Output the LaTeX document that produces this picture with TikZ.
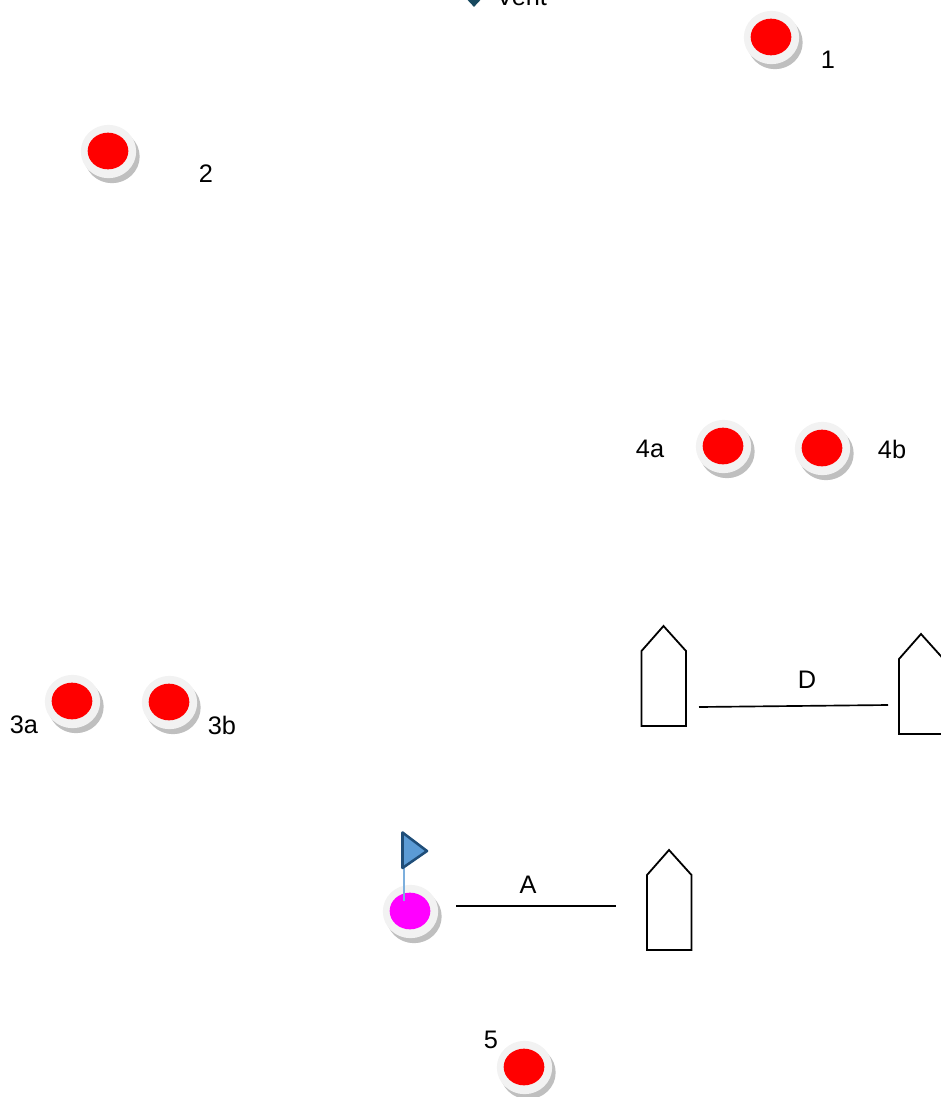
\documentclass[tikz,border=0pt]{standalone}
\usepackage{fontspec}
\setmainfont{Liberation Sans}
\usetikzlibrary{shapes.geometric}
\definecolor{ringgrey}{HTML}{F2F2F2}
\definecolor{shadowgrey}{HTML}{BFBFBF}
\definecolor{flagblue}{HTML}{5B9BD5}
\definecolor{flagedge}{HTML}{1F4E79}
\definecolor{ventteal}{HTML}{17495F}
\definecolor{markred}{HTML}{FF0000}
\definecolor{startpink}{HTML}{FF00FF}

\begin{document}
\begin{tikzpicture}[
        x=0.75pt, y=-0.75pt,
        buoy shadow/.style={ellipse, fill=shadowgrey, minimum width=41.5pt, minimum height=40pt, inner sep=0pt},
        buoy ring/.style={ellipse, fill=ringgrey, minimum width=41.5pt, minimum height=40pt, inner sep=0pt},
        buoy core/.style={ellipse, fill=#1, minimum width=30.5pt, minimum height=27.5pt, inner sep=0pt},
        mark label/.style={font=\fontsize{19}{22}\selectfont, inner sep=0pt},
        boat/.style={draw=black, line width=1.35pt, line join=miter, fill=white},
        course line/.style={draw=black, line width=1.25pt}
    ]

        \useasboundingbox (0,0) rectangle (940,1097);

        % Red marks
        \foreach \name/\px/\py in {1/771/37, 2/108/151, 4a/723/446, 4b/822/448, 3a/72/701, 3b/169/702, 5/524/1067}
        {
            \node[buoy shadow] (S-\name) at (\px+4,\py+5.5) {};
            \node[buoy ring] (R-\name) at (\px+0.5,\py+0.5) {};
            \node[buoy core=markred] (M-\name) at (\px,\py) {};
        }

        % Mark labels
        \foreach \name/\px/\py in {1/828/60, 2/206/174, 4a/650/449, 4b/892/449, 3a/24/725, 3b/222/725, 5/491/1040}
        {
            \node[mark label] (L-\name) at (\px,\py) {\name};
        }

        % Committee mark with flag
        \node[buoy shadow] (S-start) at (414,916.5) {};
        \node[buoy ring] (R-start) at (410.5,911.5) {};
        \node[buoy core=startpink] (M-start) at (410,911) {};
        \coordinate (pole foot) at (404,901);
        \coordinate (pole top) at (404,868);
        \draw[flagblue!80, line width=1pt] (pole foot) -- (pole top);
        \draw[draw=flagedge, fill=flagblue, line width=1.9pt, line join=round] (402.5,832.5) -- (427,851) -- (402.5,868) -- cycle;

        % Boats
        \foreach \name/\px/\py in {D1/641.5/626, D2/899/634, A1/647/850}
        {
            \draw[boat] (\px,\py+25) -- (\px+22,\py) -- (\px+44.5,\py+25) -- (\px+44.5,\py+100) -- (\px,\py+100) -- cycle;
        }

        % Distance lines
        \coordinate (A start) at (456,906);
        \coordinate (A end) at (616,906);
        \coordinate (D start) at (699,707);
        \coordinate (D end) at (888,705);
        \draw[course line] (A start) -- (A end);
        \draw[course line] (D start) -- (D end);
        \node[mark label] (L-A) at (528,885) {A};
        \node[mark label] (L-D) at (807,680) {D};

        % Wind, cut by the top edge
        \node[diamond, fill=ventteal, minimum width=14pt, minimum height=15pt, inner sep=0pt] (vent mark) at (474,-3) {};
        \node[mark label, anchor=base west] (vent) at (496,5.5) {Vent};

    \end{tikzpicture}
\end{document}
